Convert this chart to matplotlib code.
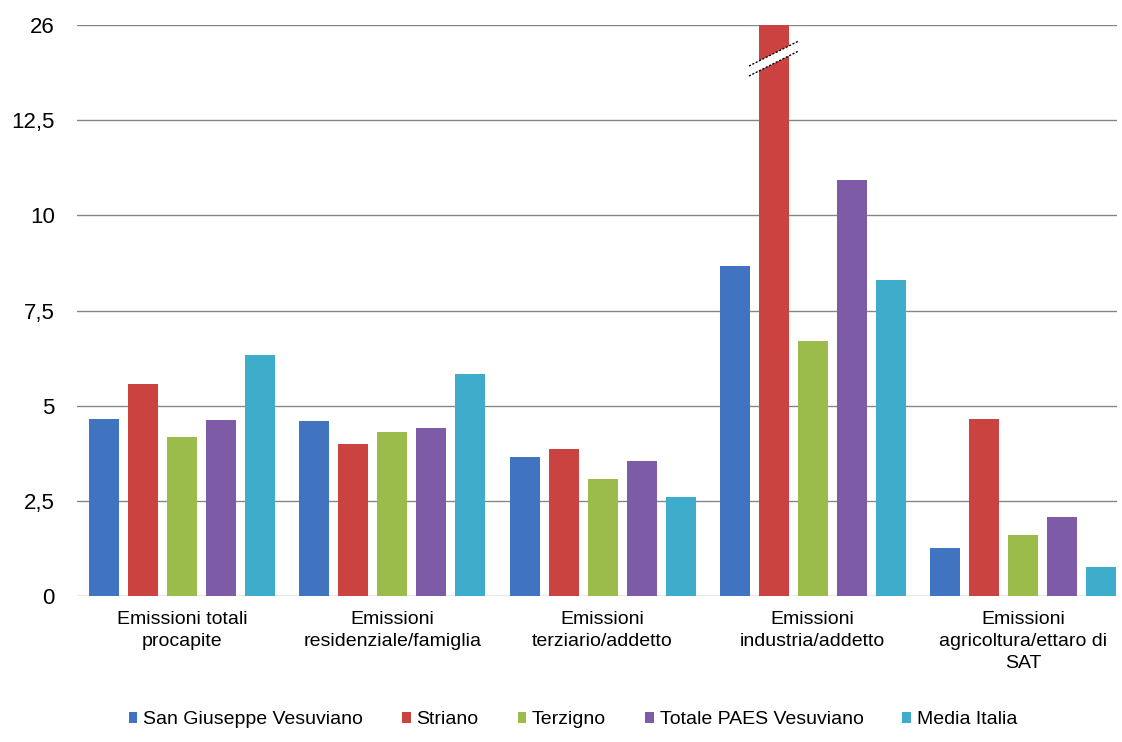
import numpy as np
import matplotlib
matplotlib.use("Agg")
import matplotlib.pyplot as plt
from matplotlib.scale import FuncScale
from matplotlib.ticker import FuncFormatter
from matplotlib.patches import Polygon
import matplotlib.transforms as mtransforms

plt.rcParams["font.family"] = ["Liberation Sans", "DejaVu Sans"]

categories = [
    "Emissioni totali\nprocapite",
    "Emissioni\nresidenziale/famiglia",
    "Emissioni\nterziario/addetto",
    "Emissioni\nindustria/addetto",
    "Emissioni\nagricoltura/ettaro di\nSAT",
]
series_names = ["San Giuseppe Vesuviano", "Striano", "Terzigno",
                "Totale PAES Vesuviano", "Media Italia"]
san_giuseppe = [4.66, 4.59, 3.66, 8.66, 1.27]
striano = [5.58, 3.98, 3.87, 26.0, 4.66]
terzigno = [4.17, 4.32, 3.08, 6.71, 1.60]
totale_paes = [4.63, 4.41, 3.55, 10.92, 2.08]
media_italia = [6.32, 5.82, 2.60, 8.29, 0.75]
y_ticks = [0, 2.5, 5, 7.5, 10, 12.5, 26]

colors = ["#4174C0", "#CB4340", "#9BBB4A", "#7D5BA6", "#3DADCB"]

# piecewise axis: linear up to 12.5, the last interval 12.5-26 compressed
BREAK_LO, BREAK_HI = 12.5, 26.0
SQUEEZE = 2.5 / (BREAK_HI - BREAK_LO)


def fwd(v):
    v = np.asarray(v, dtype=float)
    return np.where(v <= BREAK_LO, v, BREAK_LO + (v - BREAK_LO) * SQUEEZE)


def inv(v):
    v = np.asarray(v, dtype=float)
    return np.where(v <= BREAK_LO, v, BREAK_LO + (v - BREAK_LO) / SQUEEZE)


fig = plt.figure(figsize=(11.22, 7.42), dpi=100)
ax = fig.add_axes([77 / 1122, 1 - 596 / 742, 1040 / 1122, 571 / 742])
ax.set_yscale(FuncScale(ax.yaxis, (fwd, inv)))

data = [san_giuseppe, striano, terzigno, totale_paes, media_italia]
x = np.arange(len(categories))
step = 0.1855
width = 0.143
for i, (vals, c, name) in enumerate(zip(data, colors, series_names)):
    ax.bar(x + (i - 2) * step, vals, width=width, color=c, label=name, zorder=3)

ax.set_xlim(-0.5, len(categories) - 0.553)
ax.set_ylim(0, 26)
ax.set_yticks(y_ticks)
ax.yaxis.set_major_formatter(FuncFormatter(
    lambda v, p: ("%g" % v).replace(".", ",")))
ax.yaxis.grid(True, color="#868686", linewidth=1.0, zorder=0)
ax.tick_params(axis="y", length=0, pad=16, labelsize=16)
ax.set_xticks(x)
ax.set_xticklabels(categories, fontsize=14, linespacing=1.38, va="top")
ax.tick_params(axis="x", length=0, pad=11)
for s in ax.spines.values():
    s.set_visible(False)

# break marker across the oversized Striano bar
bx = x[3] + (1 - 2) * step
trans = mtransforms.blended_transform_factory(ax.transData, fig.transFigure)
half = 0.118
ytop_l, ytop_r = 1 - 66 / 742, 1 - 41 / 742
ybot_l, ybot_r = 1 - 76 / 742, 1 - 51 / 742
band = Polygon([(bx - half, ytop_l), (bx + half, ytop_r),
                (bx + half, ybot_r), (bx - half, ybot_l)],
               closed=True, facecolor="white", edgecolor="none",
               transform=trans, zorder=5, clip_on=False)
ax.add_patch(band)
for yl, yr in [(ytop_l, ytop_r), (ybot_l, ybot_r)]:
    ax.plot([bx - half, bx + half], [yl, yr], color="black", linewidth=1.0,
            linestyle=(0, (1.5, 1.2)), transform=trans, zorder=6,
            clip_on=False)

leg = fig.legend(loc="center", bbox_to_anchor=(573 / 1122, 1 - 720 / 742),
                 ncol=5, frameon=False, fontsize=14, handlelength=0.45,
                 handleheight=0.45, handletextpad=0.3, columnspacing=2.0)

fig.savefig("out.png", dpi=100, facecolor="white")
